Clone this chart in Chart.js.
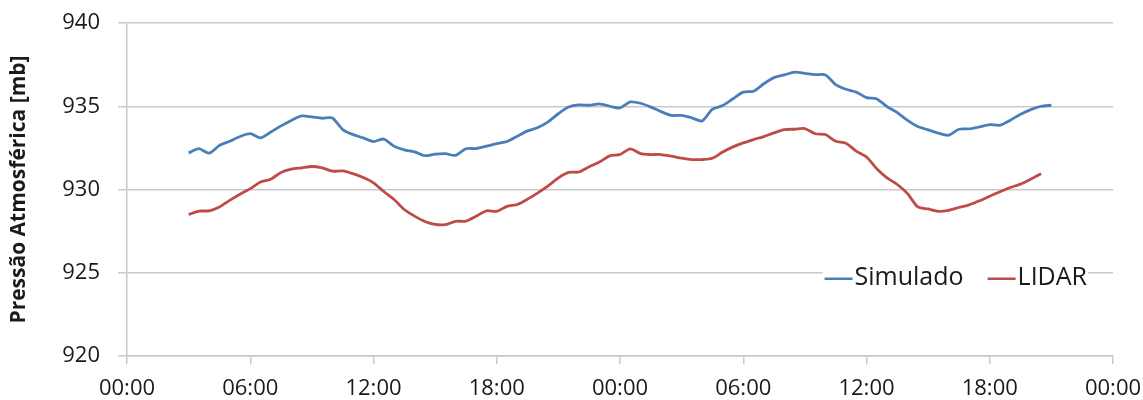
<!DOCTYPE html>
<html>
<head>
<meta charset="utf-8">
<script src="https://cdn.jsdelivr.net/npm/chart.js@4"></script>
<style>
  html, body { margin: 0; padding: 0; background: #ffffff; }
  #wrap { width: 1143px; height: 400px; position: relative; }
</style>
</head>
<body>
<div id="wrap"><canvas id="c"></canvas></div>
<script>
// Hours since the first midnight (half-hour steps)
const hoursSimulado = [
  3.0, 3.5, 4.0, 4.5, 5.0, 5.5, 6.0, 6.5, 7.0, 7.5, 8.0, 8.5, 9.0, 9.5, 10.0, 10.5,
  11.0, 11.5, 12.0, 12.5, 13.0, 13.5, 14.0, 14.5, 15.0, 15.5, 16.0, 16.5, 17.0, 17.5,
  18.0, 18.5, 19.0, 19.5, 20.0, 20.5, 21.0, 21.5, 22.0, 22.5, 23.0, 23.5, 24.0, 24.5,
  25.0, 25.5, 26.0, 26.5, 27.0, 27.5, 28.0, 28.5, 29.0, 29.5, 30.0, 30.5, 31.0, 31.5,
  32.0, 32.5, 33.0, 33.5, 34.0, 34.5, 35.0, 35.5, 36.0, 36.5, 37.0, 37.5, 38.0, 38.5,
  39.0, 39.5, 40.0, 40.5, 41.0, 41.5, 42.0, 42.5, 43.0, 43.5, 44.0, 44.5, 45.0
];
const hoursLidar = hoursSimulado.slice(0, hoursSimulado.length - 1);

// Atmospheric pressure [mb]
const simulado = [
  932.20, 932.45, 932.18, 932.65, 932.90, 933.18, 933.35, 933.10, 933.45, 933.82,
  934.15, 934.42, 934.36, 934.28, 934.30, 933.60, 933.30, 933.10, 932.88, 933.03,
  932.60, 932.38, 932.26, 932.03, 932.12, 932.15, 932.05, 932.45, 932.46, 932.60,
  932.76, 932.88, 933.20, 933.52, 933.72, 934.06, 934.55, 934.95, 935.08, 935.06,
  935.14, 935.00, 934.90, 935.26, 935.18, 934.95, 934.68, 934.45, 934.45, 934.30,
  934.12, 934.82, 935.04, 935.45, 935.85, 935.90, 936.35, 936.72, 936.88, 937.05,
  936.98, 936.90, 936.88, 936.30, 936.02, 935.85, 935.52, 935.44, 934.98, 934.62,
  934.15, 933.78, 933.58, 933.38, 933.26, 933.62, 933.64, 933.76, 933.90, 933.86,
  934.16, 934.52, 934.80, 935.00, 935.06
];
const lidar = [
  928.50, 928.70, 928.72, 928.95, 929.35, 929.72, 930.05, 930.45, 930.62, 931.02,
  931.22, 931.30, 931.38, 931.30, 931.10, 931.12, 930.95, 930.72, 930.40, 929.88,
  929.40, 928.80, 928.40, 928.08, 927.90, 927.89, 928.09, 928.10, 928.40, 928.72,
  928.69, 928.99, 929.10, 929.42, 929.80, 930.22, 930.70, 931.03, 931.05, 931.36,
  931.65, 932.02, 932.10, 932.44, 932.16, 932.10, 932.10, 932.00, 931.88, 931.80,
  931.80, 931.88, 932.25, 932.56, 932.80, 933.00, 933.18, 933.40, 933.60, 933.62,
  933.66, 933.35, 933.30, 932.90, 932.78, 932.30, 931.95, 931.25, 930.70, 930.30,
  929.75, 928.95, 928.83, 928.69, 928.75, 928.92, 929.08, 929.32, 929.60, 929.86,
  930.12, 930.32, 930.62, 930.94
];

// Axis ranges and tick steps
const xRange = [0, 48];
const xStep = 6;
const yRange = [920, 940];
const yStep = 5;

const seriesNames = ['Simulado', 'LIDAR'];
const seriesColors = ['#4a7ebb', '#be4b48'];

const toPoints = (xs, ys) => xs.map((x, i) => ({ x: x, y: ys[i] }));

const FONT = '"Open Sans", "Noto Sans", sans-serif';
const GRID = '#c9c9c9';

// Legend drawn inside the plot area, lower right
const insideLegend = {
  id: 'insideLegend',
  afterDatasetsDraw(chart) {
    const ctx = chart.ctx;
    const yScale = chart.scales.y;
    const cy = yScale.getPixelForValue(925) + 5;
    const fontSize = 25;
    ctx.save();
    ctx.font = fontSize + 'px ' + FONT;
    ctx.textBaseline = 'middle';
    const lineLen = 28;
    const gap = 2;
    const itemGap = 24;
    const items = chart.data.datasets.map(d => ({
      label: d.label, color: d.borderColor, w: ctx.measureText(d.label).width
    }));
    const total = items.reduce((s, it) => s + lineLen + gap + it.w, 0) + itemGap * (items.length - 1);
    let x = 1087 - total;
    ctx.fillStyle = '#ffffff';
    ctx.fillRect(x - 2, cy - 14, total + 3, 28);
    items.forEach(it => {
      ctx.strokeStyle = it.color;
      ctx.lineWidth = 2.5;
      ctx.beginPath();
      ctx.moveTo(x, cy + 1);
      ctx.lineTo(x + lineLen, cy + 1);
      ctx.stroke();
      x += lineLen + gap;
      ctx.fillStyle = '#1a1a1a';
      ctx.fillText(it.label, x, cy);
      x += it.w + itemGap;
    });
    ctx.restore();
  }
};

new Chart(document.getElementById('c'), {
  type: 'line',
  data: {
    datasets: [
      {
        label: seriesNames[0],
        data: toPoints(hoursSimulado, simulado),
        borderColor: seriesColors[0],
        backgroundColor: seriesColors[0],
        borderWidth: 2.8,
        pointRadius: 0,
        tension: 0.25,
        fill: false
      },
      {
        label: seriesNames[1],
        data: toPoints(hoursLidar, lidar),
        borderColor: seriesColors[1],
        backgroundColor: seriesColors[1],
        borderWidth: 2.8,
        pointRadius: 0,
        tension: 0.25,
        fill: false
      }
    ]
  },
  options: {
    responsive: true,
    maintainAspectRatio: false,
    animation: false,
    layout: { padding: { left: 0, right: 30, top: 23, bottom: 0 } },
    plugins: {
      legend: { display: false },
      tooltip: { enabled: false }
    },
    scales: {
      x: {
        type: 'linear',
        min: xRange[0],
        max: xRange[1],
        afterFit: s => { s.height = 44; s.paddingLeft = 0; s.paddingRight = 0; },
        afterBuildTicks: s => {
          s.ticks = [];
          for (let v = xRange[0]; v <= xRange[1]; v += xStep) s.ticks.push({ value: v });
        },
        ticks: {
          autoSkip: false,
          maxRotation: 0,
          padding: 12,
          color: '#1a1a1a',
          font: { family: FONT, size: 22 },
          callback: v => String(v % 24).padStart(2, '0') + ':00'
        },
        grid: {
          drawOnChartArea: false,
          drawTicks: true,
          tickLength: 8,
          color: GRID,
          lineWidth: 1.5
        },
        border: { display: true, color: GRID, width: 1.5 }
      },
      y: {
        min: yRange[0],
        max: yRange[1],
        afterFit: s => { s.width = 127; s.paddingTop = 0; s.paddingBottom = 0; },
        ticks: {
          stepSize: yStep,
          padding: 18,
          color: '#1a1a1a',
          font: { family: FONT, size: 22 }
        },
        grid: {
          drawTicks: true,
          tickLength: 9,
          color: GRID,
          lineWidth: 1.5
        },
        border: { display: true, color: GRID, width: 1.5 },
        title: {
          display: true,
          text: 'Pressão Atmosférica [mb]',
          color: '#1a1a1a',
          font: { family: FONT, size: 21, weight: 'bold' },
          padding: { top: 6, bottom: 0 }
        }
      }
    }
  },
  plugins: [insideLegend]
});
</script>
</body>
</html>
